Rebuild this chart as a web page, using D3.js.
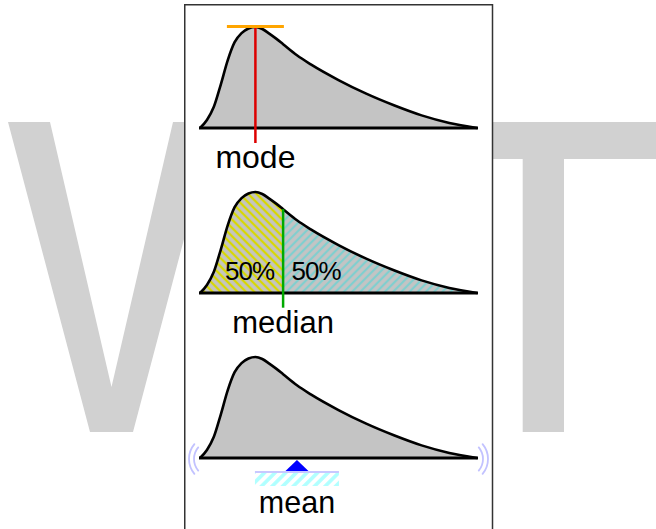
<!DOCTYPE html>
<html>
<head>
<meta charset="utf-8">
<script src="https://cdn.jsdelivr.net/npm/d3@7"></script>
<style>
  html, body { margin: 0; padding: 0; background: #ffffff; }
  svg { display: block; }
</style>
</head>
<body>
<svg id="chart" width="656" height="529"></svg>
<script>
// Skewed density sampled along the value axis (peak normalised to 1)
const xValues  = [0, 0.25, 0.5, 0.75, 1, 1.25, 1.5, 1.75, 2, 2.25, 2.5, 2.75, 3, 3.5, 4, 5, 6, 7, 8, 9, 10];
const density  = [0, 0.08, 0.21, 0.43, 0.67, 0.85, 0.94, 0.985, 1.0, 0.98, 0.935, 0.885, 0.83, 0.72, 0.63, 0.475, 0.34, 0.225, 0.125, 0.05, 0];

// Summary statistics of the distribution
const statNames  = ["mode", "median", "mean"];
const statValues = [2.0, 3.0, 3.5];
const shareLabels = ["50%", "50%"];

const points = xValues.map((v, i) => ({ x: v, y: density[i] }));

const svg = d3.select("#chart");
const defs = svg.append("defs");

// Background lettering
const bgLetters = svg.append("g").attr("fill", "#d1d1d1");
bgLetters.append("path").attr("d", "M8,122 L50,122 L111.5,387 L173,122 L215,122 L133,432 L90,432 Z");
bgLetters.append("path").attr("d", "M420,122 L660,122 L660,159 L564,159 L564,432 L522.7,432 L522.7,159 L420,159 Z");

// Panel
svg.append("rect")
  .attr("x", 184.75).attr("y", 4.75).attr("width", 307.75).attr("height", 540)
  .attr("fill", "#ffffff").attr("stroke", "#333333").attr("stroke-width", 1.5);

// Hatch patterns
function hatch(id, angle, size, bg, color, width) {
  const p = defs.append("pattern")
    .attr("id", id).attr("patternUnits", "userSpaceOnUse")
    .attr("width", size).attr("height", size)
    .attr("patternTransform", `rotate(${angle})`);
  if (bg) p.append("rect").attr("width", size).attr("height", size).attr("fill", bg);
  p.append("line").attr("x1", size / 2).attr("y1", 0).attr("x2", size / 2).attr("y2", size)
    .attr("stroke", color).attr("stroke-width", width);
}
hatch("hatchLeft", -45, 5.9, "#c4c4c4", "#d8d800", 2.3);
hatch("hatchRight", 45, 5.8, "#c4c4c4", "#80cfcf", 2.2);
hatch("hatchGround", 45, 7.5, null, "#b0ffff", 3.6);

const x = d3.scaleLinear().domain([0, 10]).range([200, 477]);
const baselines = [128, 293, 458];
const peakPx = 101;
const font = "'Liberation Sans', Arial, sans-serif";

function densityAt(v) {
  const i = d3.bisectLeft(xValues, v);
  if (xValues[i] === v) return density[i];
  const t = (v - xValues[i - 1]) / (xValues[i] - xValues[i - 1]);
  return density[i - 1] + t * (density[i] - density[i - 1]);
}

function drawPanel(k) {
  const base = baselines[k];
  const y = d3.scaleLinear().domain([0, 1]).range([base, base - peakPx]);
  const g = svg.append("g");
  const area = d3.area().x(d => x(d.x)).y0(base).y1(d => y(d.y)).curve(d3.curveMonotoneX);
  const line = d3.line().x(d => x(d.x)).y(d => y(d.y)).curve(d3.curveMonotoneX);
  return { g, y, area, line, base };
}

function outline(p) {
  p.g.append("path").datum(points).attr("d", p.line)
    .attr("fill", "none").attr("stroke", "#000").attr("stroke-width", 2.6).attr("stroke-linejoin", "round");
  p.g.append("line").attr("x1", x(0) - 1).attr("x2", x(10) + 1).attr("y1", p.base).attr("y2", p.base)
    .attr("stroke", "#000").attr("stroke-width", 3);
}

// ---- Mode ----
{
  const p = drawPanel(0);
  p.g.append("path").datum(points).attr("d", p.area).attr("fill", "#c4c4c4");
  outline(p);
  const mx = x(statValues[0]);
  const top = p.y(densityAt(statValues[0]));
  p.g.append("line").attr("x1", mx).attr("x2", mx).attr("y1", top).attr("y2", 143)
    .attr("stroke", "#dd0000").attr("stroke-width", 2.5);
  p.g.append("line").attr("x1", mx - 28.5).attr("x2", mx + 28.5).attr("y1", top - 0.5).attr("y2", top - 0.5)
    .attr("stroke", "#ffa500").attr("stroke-width", 3);
  p.g.append("text").attr("x", mx).attr("y", 168).attr("text-anchor", "middle")
    .attr("font-family", font).attr("font-size", 32).text(statNames[0]);
}

// ---- Median ----
{
  const p = drawPanel(1);
  const mdx = x(statValues[1]);
  defs.append("clipPath").attr("id", "clipL").append("rect")
    .attr("x", 0).attr("y", 0).attr("width", mdx).attr("height", 529);
  defs.append("clipPath").attr("id", "clipR").append("rect")
    .attr("x", mdx).attr("y", 0).attr("width", 656 - mdx).attr("height", 529);
  p.g.append("path").datum(points).attr("d", p.area).attr("fill", "url(#hatchLeft)").attr("clip-path", "url(#clipL)");
  p.g.append("path").datum(points).attr("d", p.area).attr("fill", "url(#hatchRight)").attr("clip-path", "url(#clipR)");
  outline(p);
  const top = p.y(densityAt(statValues[1]));
  p.g.append("line").attr("x1", mdx).attr("x2", mdx).attr("y1", top).attr("y2", 307.7)
    .attr("stroke", "#00aa00").attr("stroke-width", 2.5);
  p.g.append("text").attr("x", 249.5).attr("y", 279.5).attr("text-anchor", "middle")
    .attr("font-family", font).attr("font-size", 26).attr("letter-spacing", -1).text(shareLabels[0]);
  p.g.append("text").attr("x", 316).attr("y", 279.5).attr("text-anchor", "middle")
    .attr("font-family", font).attr("font-size", 26).attr("letter-spacing", -1).text(shareLabels[1]);
  p.g.append("text").attr("x", mdx).attr("y", 333.3).attr("text-anchor", "middle")
    .attr("font-family", font).attr("font-size", 31).text(statNames[1]);
}

// ---- Mean ----
{
  const p = drawPanel(2);
  p.g.append("path").datum(points).attr("d", p.area).attr("fill", "#c4c4c4");
  outline(p);
  const mnx = x(statValues[2]);
  // rocking marks at both ends of the beam
  const wob = p.g.append("g").attr("fill", "none").attr("stroke", "#b8b8ff").attr("stroke-width", 1.8)
    .attr("stroke-linecap", "round").attr("opacity", 0.85);
  [[x(0) + 12, Math.PI], [x(10) - 12, 0]].forEach(([cx, dir]) => {
    [18, 23].forEach(r => {
      const path = d3.path();
      path.arc(cx, p.base + 1, r, dir - 0.7, dir + 0.7);
      wob.append("path").attr("d", path.toString());
    });
  });
  // ground under the pivot
  p.g.append("rect").attr("x", mnx - 42).attr("y", 473).attr("width", 84).attr("height", 13)
    .attr("fill", "url(#hatchGround)");
  p.g.append("line").attr("x1", mnx - 42).attr("x2", mnx + 42).attr("y1", 472).attr("y2", 472)
    .attr("stroke", "#c8c8ff").attr("stroke-width", 2);
  // pivot
  p.g.append("path")
    .attr("d", `M${mnx},${p.base + 2} L${mnx + 11.5},${471} L${mnx - 11.5},${471} Z`)
    .attr("fill", "#0000ff");
  p.g.append("text").attr("x", mnx).attr("y", 512.7).attr("text-anchor", "middle")
    .attr("font-family", font).attr("font-size", 30.5).text(statNames[2]);
}
</script>
</body>
</html>
